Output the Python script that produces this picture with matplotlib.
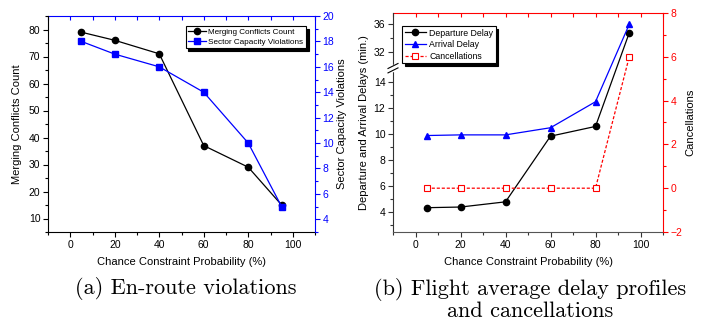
import numpy as np
import matplotlib
matplotlib.use("Agg")
import matplotlib.pyplot as plt
from matplotlib.ticker import FixedLocator, MultipleLocator
from matplotlib.scale import FuncScale

plt.rcParams['font.family'] = ['Liberation Sans', 'DejaVu Sans']
plt.rcParams['font.size'] = 7.5

# data
prob = [5, 20, 40, 60, 80, 95]
merging = [79, 76, 71, 37, 29, 15]
sector = [18, 17, 16, 14, 10, 5]
dep_delay = [4.35, 4.4, 4.8, 9.85, 10.6, 34.7]
arr_delay = [9.9, 9.95, 9.95, 10.5, 12.5, 35.9]
cancel = [0, 0, 0, 0, 0, 6]

fig = plt.figure(figsize=(7.02, 3.21), dpi=100)

# ---------------- (a) ----------------
ax1 = fig.add_axes([48/702, 1-232/321, 267/702, 216/321])
ax1.plot(prob, merging, '-o', color='black', lw=0.9, ms=4.5, label='Merging Conflicts Count')
ax1.set_xlim(-10, 110)
ax1.set_ylim(5, 85)
ax1.xaxis.set_major_locator(MultipleLocator(20))
ax1.xaxis.set_minor_locator(MultipleLocator(10))
ax1.yaxis.set_major_locator(MultipleLocator(10))
ax1.yaxis.set_minor_locator(MultipleLocator(5))
ax1.tick_params(which='both', direction='out', width=0.8, pad=2)
ax1.tick_params(which='major', length=3.5)
ax1.tick_params(which='minor', length=2)
ax1.spines['top'].set_visible(False)
ax1.spines['right'].set_visible(False)
ax1.set_xlabel('Chance Constraint Probability (%)', fontsize=8, labelpad=5)
ax1.set_ylabel('Merging Conflicts Count', fontsize=8, labelpad=5)

ax1b = ax1.twinx()
ax1b.plot(prob, sector, '-s', color='blue', lw=0.9, ms=4.5, label='Sector Capacity Violations')
ax1b.set_ylim(3, 20)
ax1b.yaxis.set_major_locator(MultipleLocator(2))
ax1b.yaxis.set_minor_locator(MultipleLocator(1))
ax1b.tick_params(which='both', direction='out', width=0.8, pad=2, colors='blue')
ax1b.tick_params(which='major', length=3.5)
ax1b.tick_params(which='minor', length=2)
for s in ['left', 'bottom', 'top']:
    ax1b.spines[s].set_visible(False)
ax1b.spines['right'].set_color('blue')
ax1b.set_ylabel('Sector Capacity Violations', color='black', fontsize=8, labelpad=2)

top1 = ax1.secondary_xaxis('top')
top1.xaxis.set_major_locator(MultipleLocator(10))
top1.tick_params(direction='in', length=3, width=0.8, colors='blue', labeltop=False)
top1.spines['top'].set_color('blue')

h1, l1 = ax1.get_legend_handles_labels()
h2, l2 = ax1b.get_legend_handles_labels()
leg = ax1b.legend(h1 + h2, l1 + l2, loc='upper right', bbox_to_anchor=(0.966, 0.954),
                  borderaxespad=0, fancybox=False, edgecolor='black', fontsize=5.9,
                  handlelength=2.2, handletextpad=0.3, labelspacing=0.2, borderpad=0.3,
                  shadow={'facecolor': 'black', 'edgecolor': 'black', 'alpha': 1})
leg.get_frame().set_linewidth(0.8)

# ---------------- (b) ----------------
ylo, brk_lo, brk_hi, yhi = 2.48, 15.08, 29.74, 37.5
frac = 0.748
src = [ylo, brk_lo, brk_hi, yhi]
dst = [0, frac, frac + 0.001, 1]

def fwd(y):
    return np.interp(y, src, dst)

def inv(y):
    return np.interp(y, dst, src)

ax2 = fig.add_axes([393/702, 1-232/321, 270/702, 219/321])
ax2.set_yscale(FuncScale(ax2, (fwd, inv)))
ax2.plot(prob, dep_delay, '-o', color='black', lw=0.9, ms=4.5, label='Departure Delay')
ax2.plot(prob, arr_delay, '-^', color='blue', lw=0.9, ms=5, label='Arrival Delay')
ax2.set_xlim(-10, 110)
ax2.set_ylim(ylo, yhi)
ax2.xaxis.set_major_locator(MultipleLocator(20))
ax2.xaxis.set_minor_locator(MultipleLocator(10))
ax2.yaxis.set_major_locator(FixedLocator([4, 6, 8, 10, 12, 14, 32, 36]))
ax2.yaxis.set_minor_locator(FixedLocator([3, 5, 7, 9, 11, 13, 34]))
ax2.tick_params(which='both', direction='out', width=0.8, pad=2, color='#333333')
ax2.tick_params(which='major', length=3.5)
ax2.tick_params(which='minor', length=2)
ax2.spines['top'].set_visible(False)
ax2.spines['right'].set_visible(False)
ax2.spines['left'].set_color('#333333')
ax2.spines['bottom'].set_color('#555555')
ax2.set_xlabel('Chance Constraint Probability (%)', fontsize=8, labelpad=5)
ax2.set_ylabel('Departure and Arrival Delays (min.)', fontsize=8, labelpad=3)

# axis break marks
dx = 5 / 270
dy = 2.5 / 219
gap = 2.2 / 219
ax2.plot([0, 0], [frac - gap, frac + gap], color='white', lw=2.5,
         transform=ax2.transAxes, clip_on=False, zorder=5)
for off in (-gap, gap):
    ax2.plot([-dx, dx], [frac + off - dy, frac + off + dy], color='black', lw=0.8,
             transform=ax2.transAxes, clip_on=False, zorder=6)

ax3 = ax2.twinx()
ax3.plot(prob, cancel, color='red', ls=(0, (2.5, 1.5)), lw=0.9, marker='s', ms=4.5,
         mfc='white', mec='red', mew=0.8, label='Cancellations')
ax3.set_ylim(-2, 8)
ax3.yaxis.set_major_locator(MultipleLocator(2))
ax3.yaxis.set_minor_locator(MultipleLocator(1))
ax3.tick_params(which='both', direction='out', width=0.8, pad=2, colors='red')
ax3.tick_params(which='major', length=3.5)
ax3.tick_params(which='minor', length=2)
for s in ['left', 'bottom', 'top']:
    ax3.spines[s].set_visible(False)
ax3.spines['right'].set_color('red')
ax3.set_ylabel('Cancellations', color='black', fontsize=8, labelpad=2)

top2 = ax2.secondary_xaxis('top')
top2.xaxis.set_major_locator(MultipleLocator(10))
top2.tick_params(direction='in', length=3, width=0.8, colors='red', labeltop=False)
top2.spines['top'].set_color('red')

h1, l1 = ax2.get_legend_handles_labels()
h2, l2 = ax3.get_legend_handles_labels()
leg2 = ax3.legend(h1 + h2, l1 + l2, loc='upper left', bbox_to_anchor=(0.033, 0.941),
                  borderaxespad=0, fancybox=False, edgecolor='black', fontsize=6.3,
                  handlelength=2.5, handletextpad=0.3, labelspacing=0.3, borderpad=0.3,
                  shadow={'facecolor': 'black', 'edgecolor': 'black', 'alpha': 1})
leg2.get_frame().set_linewidth(0.8)

# captions
fig.text(185.5/702, 1-289/321, '(a) En-route violations', ha='center', va='center',
         family='cmr10', size=16)
fig.text(530/702, 1-299.5/321, '(b) Flight average delay profiles\nand cancellations',
         ha='center', va='center', family='cmr10', size=16, linespacing=1.05)

fig.savefig('out.png', dpi=100)
